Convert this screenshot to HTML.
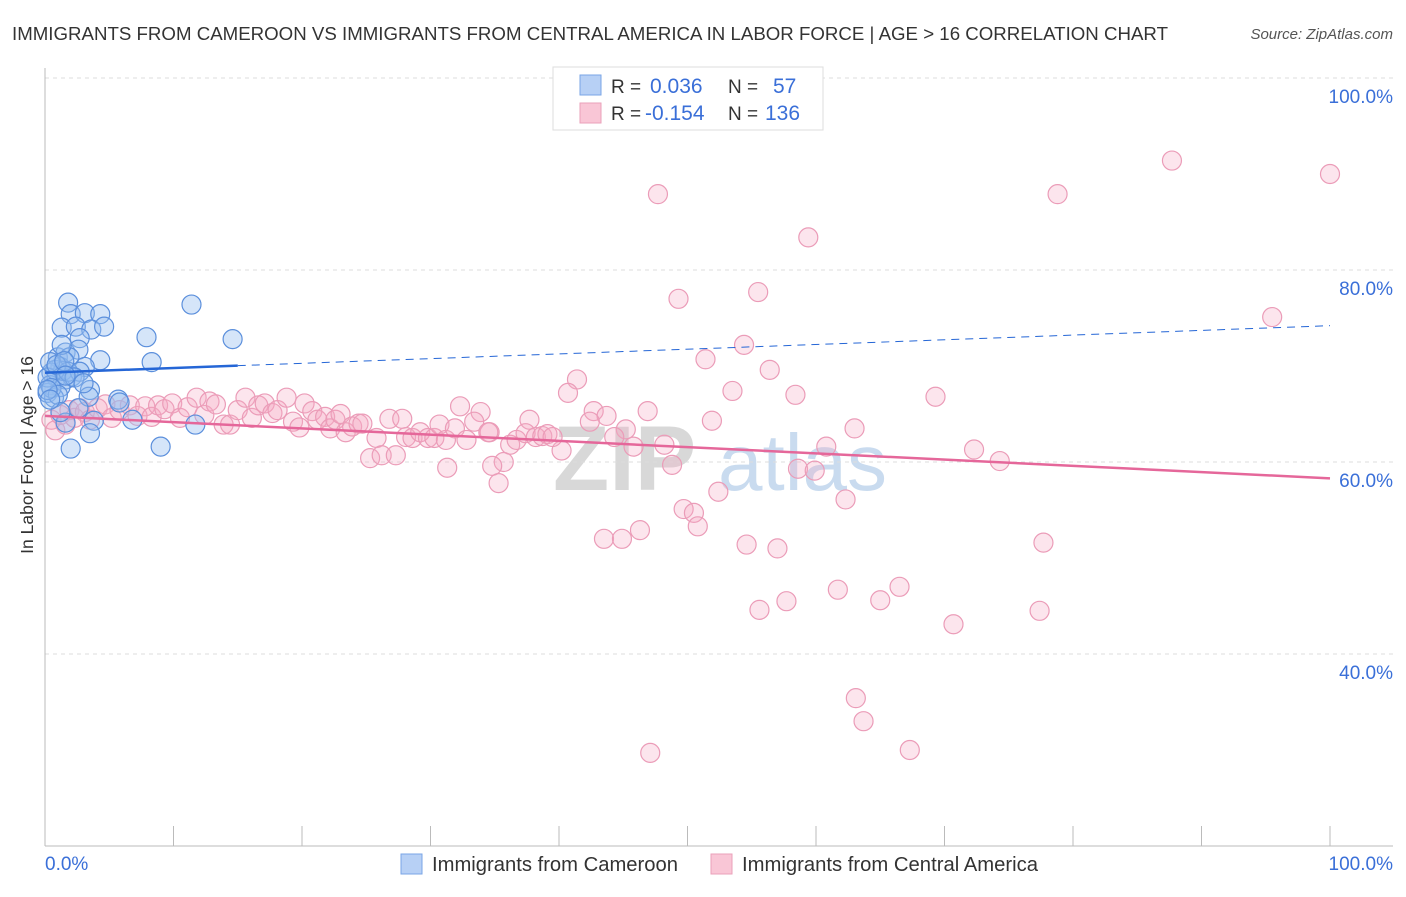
<!DOCTYPE html>
<html><head><meta charset="utf-8"><style>
body{margin:0;background:#fff;font-family:"Liberation Sans",sans-serif;}
svg text{font-family:"Liberation Sans",sans-serif;}
</style></head><body>
<svg id="chart" width="1406" height="892" xmlns="http://www.w3.org/2000/svg">
<text x="12" y="40" font-size="18.6" fill="#333" textLength="1156" lengthAdjust="spacingAndGlyphs">IMMIGRANTS FROM CAMEROON VS IMMIGRANTS FROM CENTRAL AMERICA IN LABOR FORCE | AGE &gt; 16 CORRELATION CHART</text>
<text x="1393" y="39" font-size="15" fill="#555" font-style="italic" text-anchor="end">Source: ZipAtlas.com</text>
<g>
<text x="553" y="490" font-size="92" fill="#d8d8d8" font-family="Liberation Serif" font-weight="bold">ZIP</text>
<text x="718" y="490" font-size="80" fill="#c9dbef">atlas</text>
</g>
<g id="grid"></g>
<g id="axes"></g>
<g id="pts"></g>
<g id="trends"></g>
<text transform="translate(33,455) rotate(-90)" font-size="17.5" fill="#333" text-anchor="middle">In Labor Force | Age &gt; 16</text>
<text x="45" y="870" font-size="19" fill="#3a6fd8">0.0%</text>
<text x="1393" y="870" font-size="19" fill="#3a6fd8" text-anchor="end">100.0%</text>
<g>
<rect x="553" y="67" width="270" height="63" fill="#fff" stroke="#ddd"/>
<rect x="580" y="75" width="21" height="20" fill="#b7d0f5" stroke="#7aa5e6"/>
<rect x="580" y="103" width="21" height="20" fill="#f9c6d6" stroke="#eaa0ba"/>
<text x="611" y="93" font-size="19" fill="#333">R =</text>
<text x="650" y="93" font-size="21" fill="#3a6fd8">0.036</text>
<text x="728" y="93" font-size="19" fill="#333">N =</text>
<text x="773" y="93" font-size="21" fill="#3a6fd8">57</text>
<text x="611" y="120" font-size="19" fill="#333">R =</text>
<text x="645" y="120" font-size="21" fill="#3a6fd8">-0.154</text>
<text x="728" y="120" font-size="19" fill="#333">N =</text>
<text x="765" y="120" font-size="21" fill="#3a6fd8">136</text>
</g>
<g>
<rect x="401" y="854" width="21" height="20" fill="#b7d0f5" stroke="#7aa5e6"/>
<text x="432" y="871" font-size="20" fill="#333" textLength="246" lengthAdjust="spacingAndGlyphs">Immigrants from Cameroon</text>
<rect x="711" y="854" width="21" height="20" fill="#f9c6d6" stroke="#eaa0ba"/>
<text x="742" y="871" font-size="20" fill="#333" textLength="296" lengthAdjust="spacingAndGlyphs">Immigrants from Central America</text>
</g>
</svg>
<script>
const yTicks=[100,80,60,40];
const yTickLabels=["100.0%","80.0%","60.0%","40.0%"];
const xTicks=[0,10,20,30,40,50,60,70,80,90,100];
const blueX=[1.8,2.0,3.1,4.3,1.3,2.4,3.6,4.6,2.7,7.9,11.4,14.6,1.0,1.6,2.6,1.2,1.9,4.3,8.3,3.1,0.5,0.9,1.6,2.1,0.4,1.2,3.5,0.2,0.7,3.4,5.7,6.8,3.8,1.6,3.5,2.0,9.0,11.7,1.4,0.8,1.8,2.7,0.2,0.5,1.0,2.3,1.3,0.4,0.9,1.5,0.2,5.8,2.6,1.2,1.6,3.0,0.4];
const blueY=[76.6,75.4,75.5,75.4,74.0,74.1,73.8,74.1,72.9,73.0,76.4,72.8,70.9,71.4,71.7,69.9,70.9,70.6,70.4,69.9,69.3,68.8,68.6,68.9,68.0,67.8,67.5,67.2,66.7,66.8,66.5,64.4,64.3,64.1,63.0,61.4,61.6,63.9,69.5,69.6,69.4,69.4,68.8,67.7,67.0,68.8,72.2,70.4,70.1,70.5,67.5,66.2,65.6,65.2,69.0,68.2,66.5];
const pinkX=[47.7,78.8,87.7,100,59.4,49.3,55.5,95.5,54.4,51.4,56.4,41.4,53.5,58.4,69.3,40.7,32.3,33.9,42.7,46.9,43.7,51.9,37.7,34.6,45.2,63.0,60.8,72.3,74.3,48.2,45.8,40.2,35.7,34.8,31.3,48.8,58.6,59.9,52.4,62.3,35.3,49.7,50.5,50.8,46.3,43.5,44.9,54.6,57.0,77.7,66.5,61.7,57.7,55.6,65.0,77.4,70.7,63.1,63.7,67.3,47.1,
0.5,0.8,1.2,1.6,1.9,2.3,2.7,3.1,3.5,4.1,4.7,5.2,5.8,6.6,7.2,7.8,8.3,8.8,9.3,9.9,10.5,11.1,11.8,12.4,12.8,13.3,13.9,14.4,15.0,15.6,16.1,16.6,17.1,17.7,18.1,18.8,19.3,19.8,20.2,20.8,21.2,21.8,22.2,22.6,23.0,23.4,23.9,24.4,24.7,25.3,25.8,26.2,26.8,27.3,27.8,28.1,28.6,29.2,29.8,30.3,30.7,31.2,31.9,32.8,33.4,34.5,36.2,36.7,37.4,38.2,38.7,39.1,39.5,42.4,44.3];
const pinkY=[87.9,87.9,91.4,90.0,83.4,77.0,77.7,75.1,72.2,70.7,69.6,68.6,67.4,67.0,66.8,67.2,65.8,65.2,65.3,65.3,64.8,64.3,64.4,63.1,63.4,63.5,61.6,61.3,60.1,61.8,61.6,61.2,60.0,59.6,59.4,59.7,59.3,59.1,56.9,56.1,57.8,55.1,54.7,53.3,52.9,52.0,52.0,51.4,51.0,51.6,47.0,46.7,45.5,44.6,45.6,44.5,43.1,35.4,33.0,30.0,29.7,
64.4,63.3,64.9,63.9,65.4,64.6,65.6,65.2,64.4,65.6,66.0,64.6,65.4,65.9,64.8,65.8,64.7,65.9,65.5,66.1,64.6,65.7,66.7,64.9,66.3,66.0,63.9,63.9,65.4,66.7,64.6,65.9,66.1,65.1,65.4,66.7,64.2,63.6,66.1,65.3,64.4,64.7,63.5,64.4,65.0,63.1,63.7,64.0,64.0,60.4,62.5,60.7,64.5,60.7,64.5,62.6,62.5,63.1,62.5,62.5,63.9,62.3,63.5,62.3,64.2,63.1,61.8,62.3,63.0,62.6,62.7,62.9,62.6,64.2,62.6];
const blueTrend=[69.3,74.2];
const pinkTrend=[64.8,58.3];
const NS="http://www.w3.org/2000/svg";
const X0=45,X1=1330,YT=270,YTV=80,PPU=9.6;
function sx(v){return X0+(X1-X0)*v/100;}
function sy(v){return YT+(YTV-v)*PPU;}
function mk(t,a,p){const e=document.createElementNS(NS,t);for(const k in a)e.setAttribute(k,a[k]);document.getElementById(p).appendChild(e);return e;}
yTicks.forEach((v,i)=>{
 const l=mk('line',{x1:45,x2:1393,y1:sy(v),y2:sy(v),stroke:'#ddd','stroke-dasharray':'4,4'},'grid');
 
 
 const t=mk('text',{x:1393,y:sy(v)+25,'font-size':19,fill:'#3a6fd8','text-anchor':'end'},'grid');
 t.textContent=yTickLabels[i];
 
 
});
const ax=mk('line',{x1:45,x2:1393,y1:846,y2:846,stroke:'#bbb'},'axes');


const ay=mk('line',{x1:45,x2:45,y1:68,y2:846,stroke:'#bbb'},'axes');


xTicks.forEach(v=>{
 const t=mk('line',{x1:sx(v),x2:sx(v),y1:826,y2:846,stroke:'#bbb'},'axes');
 
 
});
pinkX.forEach((x,i)=>{
 const c=mk('circle',{cx:sx(x),cy:sy(pinkY[i]),r:9.5,fill:'rgba(245,170,195,0.3)',stroke:'#eb9cb8','stroke-width':1.2},'pts');
 
 
});
blueX.forEach((x,i)=>{
 const c=mk('circle',{cx:sx(x),cy:sy(blueY[i]),r:9.5,fill:'rgba(150,190,240,0.4)',stroke:'#5b8fdc','stroke-width':1.2},'pts');
 
 
});
function tv(tr,x){return tr[0]+(tr[1]-tr[0])*x/100;}
const b1=mk('line',{x1:sx(0),y1:sy(tv(blueTrend,0)),x2:sx(15),y2:sy(tv(blueTrend,15)),stroke:'#2566d6','stroke-width':2.5},'trends');


const b2=mk('line',{x1:sx(15),y1:sy(tv(blueTrend,15)),x2:sx(100),y2:sy(tv(blueTrend,100)),stroke:'#2566d6','stroke-width':1,'stroke-dasharray':'8,6'},'trends');


const p1=mk('line',{x1:sx(0),y1:sy(tv(pinkTrend,0)),x2:sx(100),y2:sy(tv(pinkTrend,100)),stroke:'#e5679a','stroke-width':2.5},'trends');


</script>
</body></html>
